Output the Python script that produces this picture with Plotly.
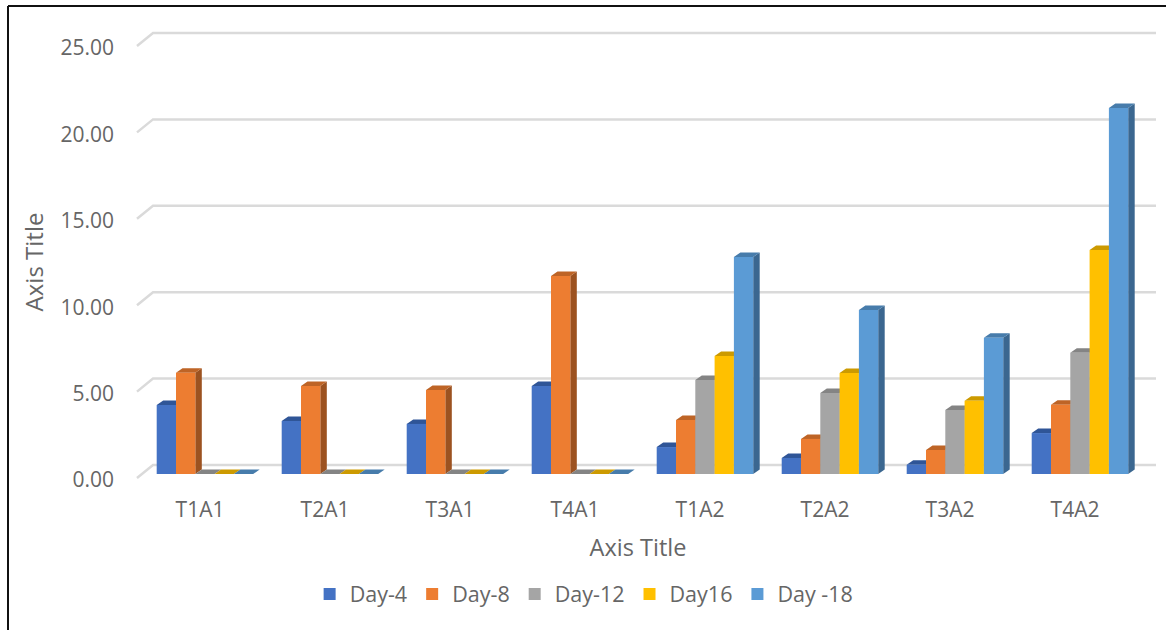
import plotly.graph_objects as go

# Chart data
categories = ["T1A1", "T2A1", "T3A1", "T4A1", "T1A2", "T2A2", "T3A2", "T4A2"]
day_4 = [3.99, 3.07, 2.90, 5.09, 1.56, 0.93, 0.54, 2.37]
day_8 = [5.86, 5.09, 4.86, 11.46, 3.12, 2.03, 1.39, 4.01]
day_12 = [0, 0, 0, 0, 5.44, 4.69, 3.70, 7.02]
day_16 = [0, 0, 0, 0, 6.83, 5.85, 4.24, 12.96]
day_18 = [0, 0, 0, 0, 12.56, 9.49, 7.89, 21.18]
y_ticks = [0, 5, 10, 15, 20, 25]

series = [
    ("Day-4", day_4, "#4472C4", "#2F5597", "#2A4B85"),
    ("Day-8", day_8, "#ED7D31", "#BE6426", "#9C5220"),
    ("Day-12", day_12, "#A5A5A5", "#848484", "#6C6C6C"),
    ("Day16", day_16, "#FFC000", "#CC9A00", "#A87F00"),
    ("Day -18", day_18, "#5B9BD5", "#477CAB", "#3B6790"),
]

# Pixel layout of the plot area and the scales derived from it
WIDTH, HEIGHT = 1166, 630
LEFT, RIGHT, TOP, BOTTOM = 120, 1156, 30, 494
CAT_PITCH = 125.0
CAT_ORIGIN = 200.0
UNIT = 17.28
BASELINE = 474.0

x_range = [(LEFT - CAT_ORIGIN) / CAT_PITCH, (RIGHT - CAT_ORIGIN) / CAT_PITCH]
y_range = [(BASELINE - BOTTOM) / UNIT, (BASELINE - TOP) / UNIT]

BAR_W = 19.3 / CAT_PITCH
BAR_START = -43.3 / CAT_PITCH
DEPTH_X = 6.5 / CAT_PITCH
DEPTH_Y = 4.5 / UNIT

fig = go.Figure()

# Perspective gridlines: a slanted stub on the left wall, then the back wall
tip_x = (137 - CAT_ORIGIN) / CAT_PITCH
back_x = (153 - CAT_ORIGIN) / CAT_PITCH
tip_dy = -4 / UNIT
back_dy = 9 / UNIT
gx, gy = [], []
for t in y_ticks:
    gx += [tip_x, back_x, x_range[1], None]
    gy += [t + tip_dy, t + back_dy, t + back_dy, None]
fig.add_trace(go.Scatter(x=gx, y=gy, mode="lines", showlegend=False, hoverinfo="skip",
                         line=dict(color="#DADADA", width=2.5)))

# Top and side faces of each bar, painted series by series
for i, (name, vals, front, top, side) in enumerate(series):
    left = BAR_START + i * BAR_W
    for kind, colour in (("side", side), ("top", top)):
        px, py = [], []
        for c, v in enumerate(vals):
            a = c + left
            b = a + BAR_W
            if kind == "side":
                px += [b, b + DEPTH_X, b + DEPTH_X, b, b, None]
                py += [0, DEPTH_Y, v + DEPTH_Y, v, 0, None]
            else:
                px += [a, a + DEPTH_X, b + DEPTH_X, b, a, None]
                py += [v, v + DEPTH_Y, v + DEPTH_Y, v, v, None]
        fig.add_trace(go.Scatter(x=px, y=py, mode="lines", fill="toself", fillcolor=colour,
                                 line=dict(width=0, color=colour), showlegend=False,
                                 hoverinfo="skip"))

# Front faces sit on an overlaid pair of axes so they cover the neighbouring side faces
for i, (name, vals, front, top, side) in enumerate(series):
    fig.add_trace(go.Bar(x=categories, y=vals, name=name, xaxis="x2", yaxis="y2",
                         width=BAR_W, offset=BAR_START + i * BAR_W,
                         marker=dict(color=front, line=dict(width=0))))

FONT = "Open Sans"
GREY = "#666666"

fig.update_layout(
    width=WIDTH, height=HEIGHT,
    margin=dict(l=LEFT, r=WIDTH - RIGHT, t=TOP, b=HEIGHT - BOTTOM, autoexpand=False),
    paper_bgcolor="white", plot_bgcolor="white",
    font=dict(family=FONT, color=GREY, size=18),
    barmode="overlay",
    xaxis=dict(type="linear", range=x_range, tickmode="array",
               tickvals=list(range(len(categories))), ticktext=categories,
               showgrid=False, zeroline=False, showline=False, ticks="",
               tickfont=dict(size=21), ticklabelstandoff=1,
               title=dict(text="Axis Title", font=dict(size=23.5), standoff=17)),
    yaxis=dict(range=y_range, tickvals=y_ticks, tickformat=".2f",
               showgrid=False, zeroline=False, showline=False, ticks="",
               tickfont=dict(size=21), ticklabelstandoff=5, ticklabelshift=6,
               title=dict(text="Axis Title", font=dict(size=24), standoff=10)),
    xaxis2=dict(type="category", categoryorder="array", categoryarray=categories,
                overlaying="x", range=x_range, visible=False),
    yaxis2=dict(overlaying="y", range=y_range, visible=False),
    legend=dict(orientation="h", x=0.448, xanchor="center",
                y=(BOTTOM - 594) / (BOTTOM - TOP),
                yanchor="middle", font=dict(size=21.5), bgcolor="rgba(0,0,0,0)",
                itemclick=False, itemdoubleclick=False),
    hovermode="closest",
)


def paper_x(px):
    return (px - LEFT) / (RIGHT - LEFT)


def paper_y(px):
    return (BOTTOM - px) / (BOTTOM - TOP)


# Dark frame along the top and left of the chart
for x0, y0, x1, y1 in ((8, 6, WIDTH, 6), (8, 6, 8, HEIGHT)):
    fig.add_shape(type="line", xref="paper", yref="paper",
                  x0=paper_x(x0), y0=paper_y(y0), x1=paper_x(x1), y1=paper_y(y1),
                  line=dict(color="#111111", width=2))

fig.write_html("out.html")
